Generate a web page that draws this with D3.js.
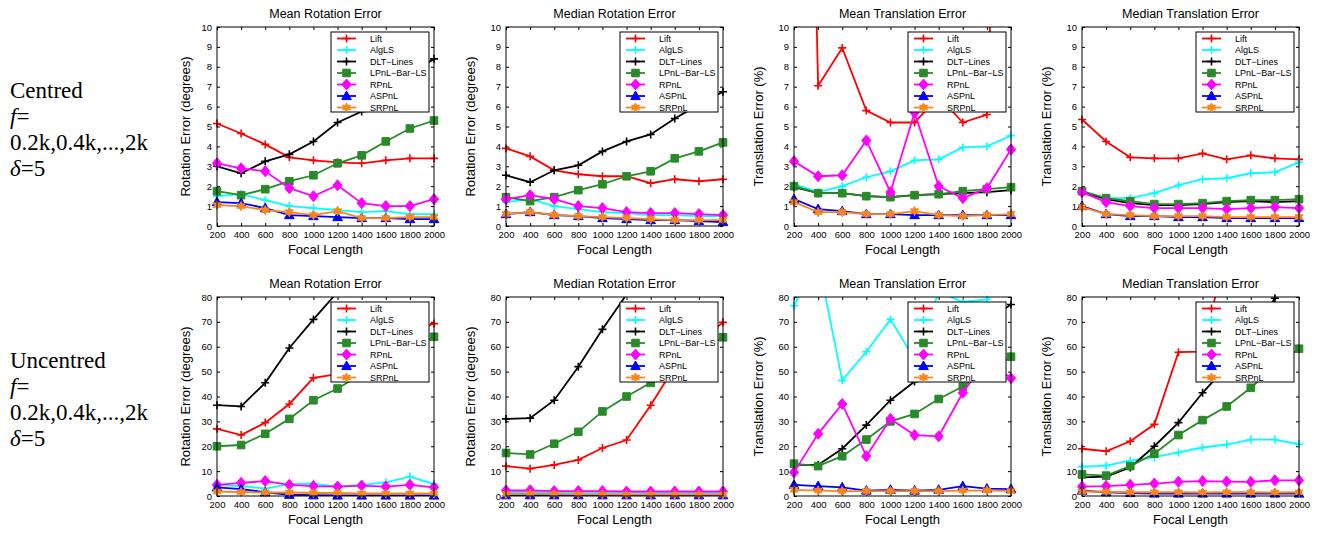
<!DOCTYPE html>
<html>
<head>
<meta charset="utf-8">
<style>
body { margin: 0; background: #fff; }
svg { display: block; font-family: "Liberation Sans", Arial, sans-serif; }
.note { font-family: "Liberation Serif", serif; font-size: 23px; fill: #000; }
</style>
</head>
<body>
<div id="chart"></div>
<script src="https://cdn.jsdelivr.net/npm/d3@7"></script>
<script>

// focal lengths on the x axis
var focal = [200, 400, 600, 800, 1000, 1200, 1400, 1600, 1800, 2000];

var methods = ["Lift", "AlgLS", "DLT\u2212Lines", "LPnL\u2212Bar\u2212LS", "RPnL", "ASPnL", "SRPnL"];
var colors  = ["#ff0000", "#00ffff", "#000000", "#2a8a2a", "#ff00ff", "#0000ff", "#f7861c"];
var shapes  = ["plus", "plus", "plus", "square", "diamond", "triangle", "star"];

var titles  = ["Mean Rotation Error", "Median Rotation Error", "Mean Translation Error", "Median Translation Error"];
var yLabels = ["Rotation Error (degrees)", "Rotation Error (degrees)", "Translation Error (%)", "Translation Error (%)"];
var yMax  = [10, 80];
var yStep = [1, 10];
var rowNames = ["Centred", "Uncentred"];

// one array per panel, rows in the order of `methods`
var meanRotCentred = [
  [5.15, 4.65, 4.1, 3.45, 3.3, 3.2, 3.15, 3.3, 3.4, 3.4],
  [1.5, 1.6, 1.3, 1.0, 0.9, 0.8, 0.7, 0.75, 0.6, 0.6],
  [3.0, 2.65, 3.25, 3.6, 4.25, 5.2, 5.75, 6.8, 7.6, 8.4],
  [1.75, 1.55, 1.85, 2.25, 2.55, 3.15, 3.55, 4.25, 4.9, 5.3],
  [3.15, 2.9, 2.75, 1.9, 1.5, 2.05, 1.15, 1.0, 1.0, 1.35],
  [1.2, 1.15, 0.9, 0.55, 0.5, 0.45, 0.4, 0.4, 0.35, 0.35],
  [1.05, 1.0, 0.8, 0.7, 0.55, 0.75, 0.4, 0.4, 0.45, 0.45]
];
var medianRotCentred = [
  [3.9, 3.5, 2.8, 2.6, 2.5, 2.5, 2.15, 2.35, 2.25, 2.35],
  [1.2, 1.35, 1.0, 0.85, 0.7, 0.65, 0.55, 0.55, 0.5, 0.5],
  [2.55, 2.2, 2.8, 3.05, 3.75, 4.25, 4.6, 5.4, 6.1, 6.75],
  [1.45, 1.25, 1.45, 1.8, 2.1, 2.5, 2.75, 3.4, 3.75, 4.2],
  [1.35, 1.55, 1.35, 1.0, 0.9, 0.7, 0.65, 0.65, 0.6, 0.55],
  [0.6, 0.7, 0.55, 0.5, 0.4, 0.35, 0.3, 0.3, 0.25, 0.2],
  [0.6, 0.7, 0.55, 0.5, 0.45, 0.4, 0.35, 0.3, 0.3, 0.3]
];
var meanTransCentred = [
  [60, 7.05, 8.95, 5.8, 5.2, 5.2, 6.5, 5.2, 5.6, 40],
  [2.1, 1.7, 2.0, 2.45, 2.75, 3.3, 3.35, 3.95, 4.0, 4.55],
  [1.95, 1.65, 1.65, 1.5, 1.45, 1.55, 1.6, 1.65, 1.7, 1.8],
  [2.0, 1.65, 1.65, 1.5, 1.45, 1.55, 1.6, 1.75, 1.85, 1.95],
  [3.25, 2.5, 2.55, 4.3, 1.7, 5.7, 2.0, 1.4, 1.9, 3.85],
  [1.35, 0.85, 0.75, 0.6, 0.6, 0.55, 0.55, 0.55, 0.55, 0.55],
  [1.2, 0.7, 0.7, 0.6, 0.6, 0.75, 0.55, 0.5, 0.55, 0.6]
];
var medianTransCentred = [
  [5.35, 4.25, 3.45, 3.4, 3.4, 3.65, 3.35, 3.55, 3.4, 3.35],
  [1.7, 1.4, 1.4, 1.65, 2.05, 2.35, 2.4, 2.65, 2.7, 3.2],
  [1.7, 1.35, 1.15, 1.05, 1.05, 1.1, 1.2, 1.25, 1.2, 1.25],
  [1.75, 1.4, 1.25, 1.1, 1.1, 1.15, 1.25, 1.3, 1.3, 1.35],
  [1.7, 1.2, 1.0, 0.9, 0.9, 0.9, 0.85, 0.9, 0.95, 0.9],
  [1.0, 0.6, 0.5, 0.5, 0.45, 0.45, 0.4, 0.4, 0.4, 0.4],
  [0.95, 0.6, 0.55, 0.5, 0.5, 0.5, 0.45, 0.45, 0.45, 0.45]
];
var meanRotUncentred = [
  [27, 24.5, 29.5, 37, 47.5, 49, 55, 60, 66, 69.3],
  [4.5, 4.0, 3.0, 4.8, 5.0, 3.8, 4.5, 5.5, 7.8, 4.8],
  [36.5, 36, 45.5, 59.5, 71, 82, 90, 95, 100, 105],
  [20, 20.5, 25, 31, 38.5, 43.2, 49, 54, 59, 64],
  [4.5, 5.3, 6.0, 4.5, 4.0, 3.8, 4.2, 3.8, 4.5, 3.5],
  [3.5, 2.8, 1.5, 0.5, 0.3, 0.2, 0.2, 0.2, 0.2, 0.2],
  [1.8, 1.6, 1.4, 1.4, 1.2, 1.2, 1.0, 1.0, 1.0, 1.0]
];
var medianRotUncentred = [
  [12, 11, 12.5, 14.5, 19.3, 22.5, 36.5, 52, 62, 69.8],
  [1.6, 1.6, 1.5, 1.5, 1.4, 1.4, 1.3, 1.3, 1.3, 1.3],
  [31, 31.3, 38.5, 52, 67, 81, 88, 92, 96, 100],
  [17.3, 16.7, 21, 25.8, 34, 40, 45.5, 52, 58, 63.8],
  [2.2, 2.3, 2.0, 2.0, 2.0, 1.8, 1.8, 1.8, 1.8, 1.8],
  [0.3, 0.3, 0.3, 0.3, 0.3, 0.3, 0.3, 0.3, 0.3, 0.3],
  [0.8, 0.9, 0.8, 0.7, 0.7, 0.6, 0.6, 0.6, 0.6, 0.6]
];
var meanTransUncentred = [
  [150, 140, 130, 135, 125, 130, 120, 125, 130, 120],
  [76.5, 95, 46.5, 58, 71, 55, 82, 78, 79, 90],
  [12.5, 12.5, 19, 28.5, 38.5, 46, 55, 62, 70, 77],
  [13, 12, 16, 22.7, 30, 33, 39, 44, 50, 56],
  [9.5, 25, 37, 16, 31, 24.5, 24, 41.5, 55, 47.3],
  [4.5, 4.0, 3.5, 2.2, 2.5, 2.2, 2.5, 4.0, 3.0, 2.8],
  [2.5, 2.2, 2.0, 2.0, 2.0, 2.0, 2.0, 2.2, 2.3, 2.0]
];
var medianTransUncentred = [
  [19, 18, 22, 28.8, 57.8, 58, 100, 105, 110, 108],
  [11.8, 12.2, 14.2, 15.6, 17.5, 19.5, 20.7, 22.7, 22.7, 20.8],
  [7.5, 7.8, 11.5, 20, 29.5, 41.5, 52, 65, 79.5, 90],
  [8.7, 8.2, 12, 17, 24.5, 30.5, 36, 43.5, 52, 59.2],
  [3.8, 4.0, 4.5, 5.0, 5.7, 6.0, 5.8, 5.7, 6.3, 6.3],
  [2.2, 1.5, 1.2, 1.0, 1.0, 1.0, 1.0, 1.0, 1.0, 1.0],
  [1.8, 1.7, 1.5, 1.5, 1.5, 1.4, 1.5, 1.5, 1.4, 1.5]
];

var panelData = [
  [meanRotCentred, medianRotCentred, meanTransCentred, medianTransCentred],
  [meanRotUncentred, medianRotUncentred, meanTransUncentred, medianTransUncentred]
];

// layout
var W = 1319, H = 534;
var colLeft = [217, 506, 794, 1082], plotW = 217;
var rowTop = [27, 297], plotH = 199;

var svg = d3.select("#chart").append("svg")
    .attr("width", W)
    .attr("height", H);

function markerPath(shape) {
  if (shape == "plus") return "M-4,0H4M0,-4V4";
  if (shape == "square") return "M-3.8,-3.8H3.8V3.8H-3.8Z";
  if (shape == "diamond") return "M0,-5.5L4.6,0L0,5.5L-4.6,0Z";
  if (shape == "triangle") return "M0,-5L4.8,3.6L-4.8,3.6Z";
  // six-pointed star
  var pts = [];
  for (var i = 0; i < 12; i++) {
    var r = i % 2 ? 2.4 : 4.6, a = Math.PI * i / 6 - Math.PI / 2;
    pts.push([r * Math.cos(a), r * Math.sin(a)]);
  }
  return "M" + pts.join("L") + "Z";
}

function drawMarker(sel, k) {
  var filled = shapes[k] != "plus";
  sel.append("path")
      .attr("d", markerPath(shapes[k]))
      .attr("fill", filled ? colors[k] : "none")
      .attr("stroke", colors[k])
      .attr("stroke-width", filled ? 1 : 1.6)
      .attr("stroke-linejoin", "miter");
}

function drawPanel(row, col) {
  var data = panelData[row][col];
  var left = colLeft[col], top = rowTop[row];
  var clipId = "clip-" + row + "-" + col;

  var x = d3.scaleLinear().domain([200, 2000]).range([0, plotW]);
  var y = d3.scaleLinear().domain([0, yMax[row]]).range([plotH, 0]);

  var g = svg.append("g").attr("transform", "translate(" + left + "," + top + ")");

  g.append("clipPath").attr("id", clipId)
    .append("rect").attr("width", plotW).attr("height", plotH);

  var yTicks = d3.range(0, yMax[row] + yStep[row] / 2, yStep[row]);

  // axes, ticks on the inside as matlab does
  g.append("g")
      .attr("transform", "translate(0," + plotH + ")")
      .call(d3.axisBottom(x).tickValues(focal).tickSizeInner(-3).tickSizeOuter(0).tickPadding(5).tickFormat(d3.format("d")));
  g.append("g")
      .call(d3.axisLeft(y).tickValues(yTicks).tickSizeInner(-3).tickSizeOuter(0).tickPadding(5).tickFormat(d3.format("d")));
  g.append("g")
      .call(d3.axisTop(x).tickValues(focal).tickSizeInner(-3).tickSizeOuter(0).tickFormat(""));
  g.append("g")
      .attr("transform", "translate(" + plotW + ",0)")
      .call(d3.axisRight(y).tickValues(yTicks).tickSizeInner(-3).tickSizeOuter(0).tickFormat(""));

  g.selectAll(".tick text")
      .attr("font-family", "Liberation Sans, Arial, sans-serif")
      .attr("font-size", 9.5)
      .attr("fill", "#000");
  g.selectAll(".domain").attr("stroke", "none");
  g.selectAll(".tick line").attr("stroke", "#000");

  // lines
  var line = d3.line()
      .x(function(d, j) { return x(focal[j]); })
      .y(function(d) { return y(d); });

  var plot = g.append("g");
  data.forEach(function(vals, k) {
    plot.append("path")
        .attr("clip-path", "url(#" + clipId + ")")
        .attr("d", line(vals))
        .attr("fill", "none")
        .attr("stroke", colors[k])
        .attr("stroke-width", 1.8);
    vals.forEach(function(v, j) {
      if (v > yMax[row]) return;
      var m = plot.append("g").attr("transform", "translate(" + x(focal[j]) + "," + y(v) + ")");
      drawMarker(m, k);
    });
  });

  // box
  g.append("rect")
      .attr("width", plotW).attr("height", plotH)
      .attr("fill", "none").attr("stroke", "#000").attr("stroke-width", 1);

  // titles
  g.append("text")
      .attr("x", plotW / 2).attr("y", -9)
      .attr("text-anchor", "middle")
      .attr("font-size", 12.5)
      .text(titles[col]);
  g.append("text")
      .attr("x", plotW / 2).attr("y", plotH + 28)
      .attr("text-anchor", "middle")
      .attr("font-size", 13)
      .text("Focal Length");
  g.append("text")
      .attr("transform", "translate(" + (col == 0 ? -27 : -31) + "," + (plotH / 2) + ") rotate(-90)")
      .attr("text-anchor", "middle")
      .attr("font-size", 13)
      .text(yLabels[col]);

  // legend
  var lg = g.append("g").attr("transform", "translate(114,5)");
  lg.append("rect")
      .attr("width", 98).attr("height", 80)
      .attr("fill", "#fff").attr("stroke", "#000").attr("stroke-width", 1);
  methods.forEach(function(name, k) {
    var ly = 6.5 + k * 11.5;
    lg.append("line")
        .attr("x1", 6).attr("x2", 25).attr("y1", ly).attr("y2", ly)
        .attr("stroke", colors[k]).attr("stroke-width", 1.8);
    drawMarker(lg.append("g").attr("transform", "translate(15.5," + ly + ")"), k);
    lg.append("text")
        .attr("x", 39).attr("y", ly + 3.2)
        .attr("font-size", 9)
        .text(name);
  });
}

for (var r = 0; r < 2; r++) {
  for (var c = 0; c < 4; c++) drawPanel(r, c);
}

// row descriptions on the left
rowNames.forEach(function(name, r) {
  var base = rowTop[r] + 71;
  var t = svg.append("g").attr("class", "note");
  t.append("text").attr("class", "note").attr("x", 10).attr("y", base).text(name);
  var f = t.append("text").attr("class", "note").attr("x", 10).attr("y", base + 26);
  f.append("tspan").attr("font-style", "italic").text("f");
  f.append("tspan").text("=");
  t.append("text").attr("class", "note").attr("x", 10).attr("y", base + 52).text("0.2k,0.4k,...,2k");
  var dl = t.append("text").attr("class", "note").attr("x", 10).attr("y", base + 78);
  dl.append("tspan").attr("font-style", "italic").text("\u03b4");
  dl.append("tspan").text("=5");
});

</script>
</body>
</html>
